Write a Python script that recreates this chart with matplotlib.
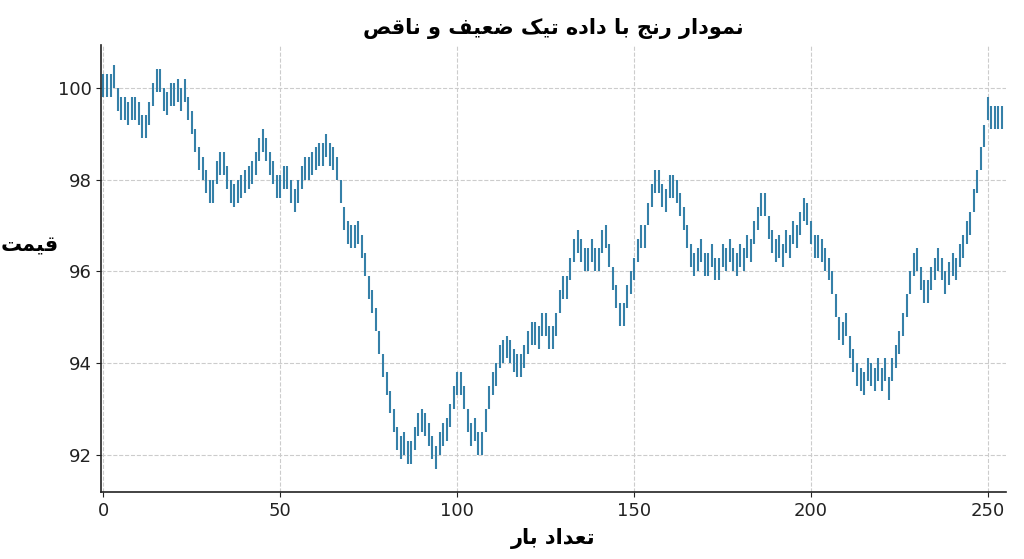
import matplotlib
matplotlib.use("Agg")
import matplotlib.pyplot as plt
import numpy as np

title_text = "نمودار رنج با داده تیک ضعیف و ناقص"
xlabel_text = "تعداد بار"
ylabel_text = "قیمت"

bar_range = 0.5
lows = [
    99.8, 99.8, 99.8, 100.0,
    99.5, 99.3, 99.3, 99.2, 99.3, 99.3, 99.2,
    98.9, 98.9, 99.2,
    99.6, 99.9, 99.9,
    99.5, 99.4, 99.6, 99.6, 99.7, 99.5, 99.7, 99.3,
    99.0, 98.6, 98.2, 98.0, 97.7, 97.5, 97.5, 97.9, 98.1,
    98.1, 97.8, 97.5, 97.4, 97.5, 97.6, 97.7,
    97.8, 97.9, 98.1, 98.4, 98.6, 98.4, 98.1,
    97.9, 97.6, 97.6, 97.8, 97.8, 97.5, 97.3, 97.5, 97.8,
    98.0, 98.0, 98.1, 98.2, 98.3, 98.3, 98.5, 98.3, 98.2, 98.0,
    97.5, 96.9, 96.6, 96.5, 96.5, 96.6, 96.3,
    95.9, 95.4, 95.1, 94.7, 94.2, 93.7, 93.3,
    92.9, 92.5, 92.1, 91.9, 92.0, 91.8, 91.8, 92.1,
    92.4, 92.5, 92.4, 92.2, 91.9, 91.7, 92.0, 92.2,
    92.3, 92.6, 93.0, 93.3, 93.3, 93.0, 92.5, 92.2,
    92.3, 92.0, 92.0, 92.5, 93.0, 93.3,
    93.5, 93.9, 94.0, 94.1, 94.0, 93.8, 93.7,
    93.7, 93.9, 94.2, 94.4, 94.4, 94.3, 94.6, 94.6,
    94.3, 94.3, 94.6, 95.1, 95.4, 95.4, 95.8, 96.2,
    96.4, 96.2, 96.0, 96.0, 96.2, 96.0, 96.0, 96.4,
    96.5, 96.1, 95.6, 95.2, 94.8, 94.8, 95.2,
    95.5, 95.8, 96.2, 96.5, 96.5, 97.0, 97.4, 97.7,
    97.7, 97.4, 97.3, 97.6, 97.6, 97.5, 97.2, 96.9,
    96.5, 96.1, 95.9, 96.0, 96.2, 95.9, 95.9, 96.1,
    95.8, 95.8, 96.1, 96.0, 96.2, 96.0, 95.9, 96.1,
    96.0, 96.3, 96.2, 96.6, 96.9, 97.2,
    97.2, 96.7, 96.4, 96.2, 96.3, 96.1, 96.4,
    96.3, 96.6, 96.5, 96.8, 97.1, 97.0,
    96.6, 96.3, 96.3, 96.2, 96.0, 95.8, 95.5, 95.0,
    94.5, 94.4, 94.6, 94.1, 93.8, 93.5, 93.4,
    93.3, 93.6, 93.5, 93.4, 93.6, 93.4, 93.6, 93.2,
    93.6, 93.9, 94.2, 94.6, 95.0, 95.5, 95.9,
    96.0, 95.6, 95.3, 95.3, 95.6, 95.8, 96.0,
    95.8, 95.5, 95.7, 95.9, 95.8, 96.1, 96.3,
    96.6, 96.8, 97.3, 97.7, 98.2, 98.7,
    99.3, 99.1, 99.1, 99.1, 99.1,
]

# minimal Arabic/Persian shaper (presentation forms) + RTL reversal
FORMS = {
    'ا': (0xFE8D, 0xFE8E, None, None), 'ب': (0xFE8F, 0xFE90, 0xFE91, 0xFE92),
    'ت': (0xFE95, 0xFE96, 0xFE97, 0xFE98), 'ج': (0xFE9D, 0xFE9E, 0xFE9F, 0xFEA0),
    'د': (0xFEA9, 0xFEAA, None, None), 'ر': (0xFEAD, 0xFEAE, None, None),
    'ص': (0xFEB9, 0xFEBA, 0xFEBB, 0xFEBC), 'ض': (0xFEBD, 0xFEBE, 0xFEBF, 0xFEC0),
    'ع': (0xFEC9, 0xFECA, 0xFECB, 0xFECC), 'ف': (0xFED1, 0xFED2, 0xFED3, 0xFED4),
    'ق': (0xFED5, 0xFED6, 0xFED7, 0xFED8), 'ک': (0xFB8E, 0xFB8F, 0xFB90, 0xFB91),
    'ل': (0xFEDD, 0xFEDE, 0xFEDF, 0xFEE0), 'م': (0xFEE1, 0xFEE2, 0xFEE3, 0xFEE4),
    'ن': (0xFEE5, 0xFEE6, 0xFEE7, 0xFEE8), 'ه': (0xFEE9, 0xFEEA, 0xFEEB, 0xFEEC),
    'و': (0xFEED, 0xFEEE, None, None), 'ی': (0xFBFC, 0xFBFD, 0xFBFE, 0xFBFF),
}

def shape(s):
    out = []
    n = len(s)
    for i, c in enumerate(s):
        if c not in FORMS:
            out.append(c)
            continue
        f = FORMS[c]
        prev = s[i - 1] if i > 0 else None
        nxt = s[i + 1] if i < n - 1 else None
        jp = prev in FORMS and FORMS[prev][2] is not None
        jn = nxt in FORMS and f[2] is not None
        if jp and jn:
            cp = f[3]
        elif jp:
            cp = f[1]
        elif jn:
            cp = f[2]
        else:
            cp = f[0]
        out.append(chr(cp))
    return ''.join(out[::-1])

plt.rcParams['font.family'] = ['DejaVu Sans']
fig = plt.figure(figsize=(10.24, 5.59), dpi=100)
ax = fig.add_axes([0.099, 0.12, 0.883, 0.80])

x = np.arange(len(lows))
lo = np.array(lows)
ax.vlines(x, lo, lo + bar_range, color='#3580a8', linewidth=1.5)

ax.set_xlim(-0.6, 255)
ax.set_ylim(91.19, 100.94)
ax.set_xticks([0, 50, 100, 150, 200, 250])
ax.set_yticks([92, 94, 96, 98, 100])
ax.grid(True, linestyle='--', color='#cccccc', linewidth=0.8)
ax.set_axisbelow(True)
for sp in ['top', 'right']:
    ax.spines[sp].set_visible(False)
for sp in ['left', 'bottom']:
    ax.spines[sp].set_color('#222222')
    ax.spines[sp].set_linewidth(1.2)
ax.tick_params(labelsize=13, colors='#222222')

ax.set_title(shape(title_text), fontsize=15, fontweight='bold', pad=8)
ax.set_xlabel(shape(xlabel_text), fontsize=15, fontweight='bold', labelpad=6)
fig.text(30 / 1024, 1 - 245 / 559, shape(ylabel_text), fontsize=15, fontweight='bold',
         ha='center', va='center')

fig.savefig('out.png', dpi=100)
